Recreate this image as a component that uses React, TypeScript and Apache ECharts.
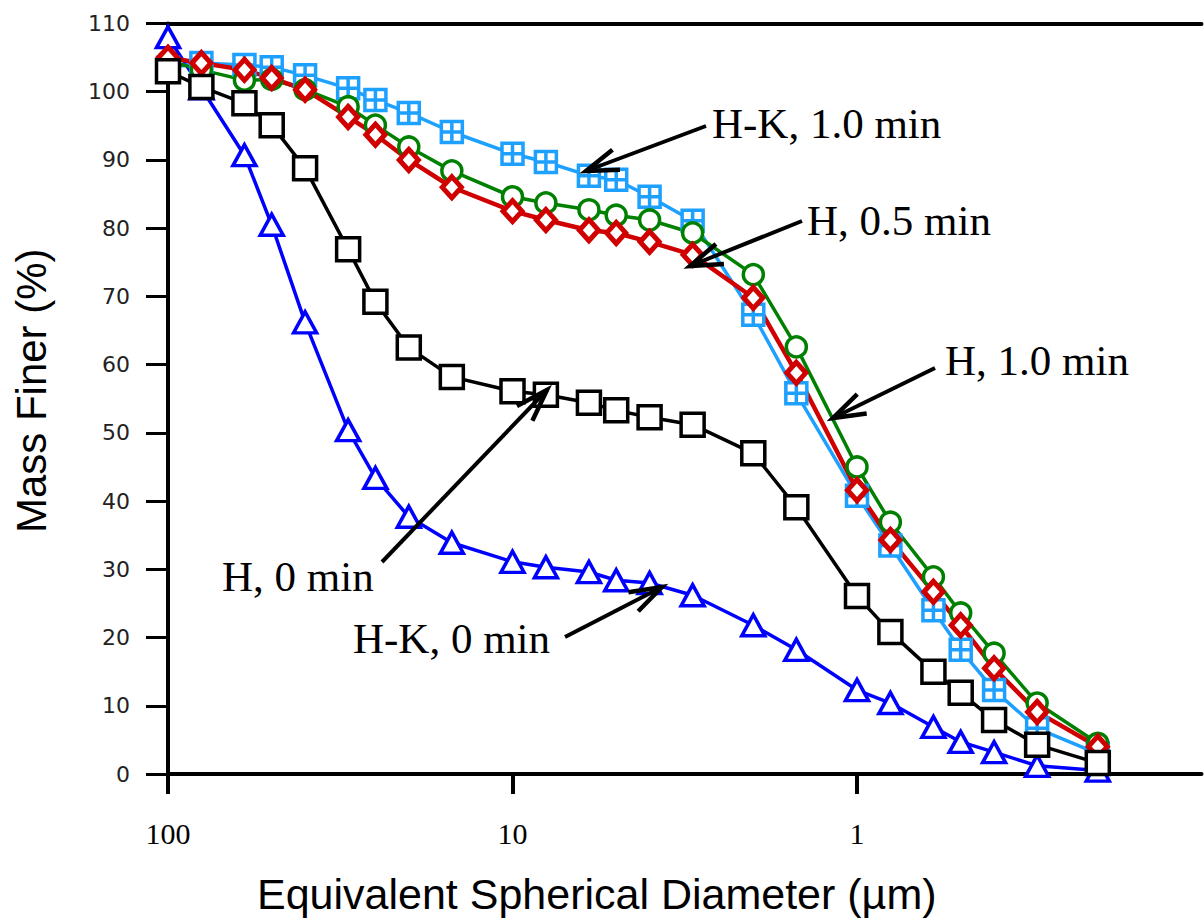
import React, { useEffect, useRef } from "react";
import * as echarts from "echarts";

// Equivalent spherical diameter (µm)
const diameters = [100, 80, 60, 50, 40, 30, 25, 20, 15, 10, 8, 6, 5, 4, 3, 2, 1.5, 1, 0.8, 0.6, 0.5, 0.4, 0.3, 0.2];

// Mass finer (%)
const hk0 = [108, 100.5, 90.7, 80.5, 66.2, 50.4, 43.4, 37.7, 33.9, 31.1, 30.3, 29.6, 28.4, 28.0, 26.2, 21.8, 18.2, 12.3, 10.4, 6.9, 4.7, 3.2, 1.2, 0.5];
const h0 = [103, 100.7, 98.3, 95.1, 88.8, 76.9, 69.2, 62.5, 58.2, 56.1, 55.6, 54.4, 53.3, 52.3, 51.2, 47.0, 39.1, 26.1, 20.8, 15.0, 11.9, 7.9, 4.3, 1.6];
const hk10 = [103.5, 104.2, 103.9, 103.6, 102.4, 100.5, 98.8, 96.9, 94.1, 90.9, 89.7, 87.7, 87.1, 84.6, 81.1, 67.3, 55.8, 40.8, 33.5, 24.0, 18.2, 12.3, 6.7, 3.0];
const h05 = [105, 104.2, 103.2, 102.0, 100.3, 96.3, 93.7, 90.0, 86.0, 82.5, 81.2, 79.7, 79.3, 78.0, 76.1, 69.8, 58.8, 41.6, 34.3, 26.7, 21.8, 15.5, 9.1, 4.0];
const h10 = [104.5, 103.2, 101.7, 101.8, 100.3, 97.8, 95.1, 91.9, 88.4, 84.6, 83.7, 82.7, 81.9, 81.2, 79.3, 73.2, 62.6, 45.0, 36.9, 28.9, 23.6, 17.7, 10.4, 4.5];

const xTickValues = [100, 10, 1];
const yMin = 0;
const yMax = 110;
const yStep = 10;

const annotations = [
  { text: "H-K, 1.0 min", tx: 712, ty: 123, tail: [706, 126], tip: [586, 171] },
  { text: "H, 0.5 min", tx: 807, ty: 220, tail: [802, 221], tip: [690, 266] },
  { text: "H, 1.0 min", tx: 945, ty: 360, tail: [935, 368], tip: [833, 418] },
  { text: "H, 0 min", tx: 222, ty: 576, tail: [382, 562], tip: [547, 390] },
  { text: "H-K, 0 min", tx: 353, ty: 638, tail: [565, 637], tip: [662, 587] },
];

const crossSquare = "path://M0,0H20V20H0Z M10,0V20 M0,10H20";

function pairs(ys: number[]) {
  return diameters.map((d, i) => [d, ys[i]]);
}

function arrowGraphics() {
  const els: any[] = [];
  annotations.forEach((a) => {
    const [x1, y1] = a.tail;
    const [x2, y2] = a.tip;
    const ang = Math.atan2(y1 - y2, x1 - x2);
    const len = 34;
    const spread = 0.32;
    const b1 = [x2 + len * Math.cos(ang + spread), y2 + len * Math.sin(ang + spread)];
    const b2 = [x2 + len * Math.cos(ang - spread), y2 + len * Math.sin(ang - spread)];
    els.push({
      type: "line",
      shape: { x1, y1, x2, y2 },
      style: { stroke: "#000", lineWidth: 4 },
      z: 100,
    });
    els.push({
      type: "polyline",
      shape: { points: [b1, [x2, y2], b2] },
      style: { stroke: "#000", lineWidth: 4.5, fill: null, lineJoin: "miter" },
      z: 100,
    });
    els.push({
      type: "text",
      x: a.tx,
      y: a.ty,
      style: {
        text: a.text,
        fontFamily: "'Liberation Serif', serif",
        fontSize: 43,
        fill: "#000",
        textAlign: "left",
        textVerticalAlign: "middle",
        align: "left",
        verticalAlign: "middle",
      },
      z: 100,
    });
  });
  return els;
}

function lineSeries(name: string, ys: number[], color: string, symbol: string, size: any, border: number, lw: number) {
  return {
    name,
    type: "line",
    xAxisIndex: 0,
    yAxisIndex: 0,
    data: pairs(ys),
    symbol,
    symbolSize: size,
    showAllSymbol: true,
    lineStyle: { color, width: lw },
    itemStyle: { color: "#fff", borderColor: color, borderWidth: border },
    emphasis: { disabled: true },
  };
}

export default function App() {
  const ref = useRef<HTMLDivElement>(null);
  useEffect(() => {
    document.body.style.margin = "0";
    if (!ref.current) return;
    const chart = echarts.init(ref.current, undefined, { renderer: "svg" });
    chart.setOption({
      animation: false,
      backgroundColor: "#fff",
      grid: { left: 168, right: 2.5, top: 23.5, bottom: 146, containLabel: false },
      xAxis: [
        {
          type: "log",
          logBase: 10,
          min: 0.1,
          max: 100,
          inverse: true,
          position: "bottom",
          name: "Equivalent Spherical Diameter (\u00b5m)",
          nameLocation: "middle",
          nameGap: 98,
          nameTextStyle: {
            fontFamily: "'Liberation Sans', Arial, sans-serif",
            fontSize: 43,
            color: "#000",
            padding: [0, 176, 0, 0],
          },
          axisLine: { show: true, lineStyle: { color: "#000", width: 4 } },
          axisTick: { show: true, inside: false, length: 20, customValues: xTickValues, lineStyle: { color: "#000", width: 4 } },
          axisLabel: {
            customValues: xTickValues,
            margin: 44,
            fontFamily: "'Liberation Serif', 'Times New Roman', serif",
            fontSize: 30,
            color: "#000",
            formatter: (v: number) => String(v),
          },
          splitLine: { show: false },
          minorTick: { show: false },
        },
        {
          type: "log",
          logBase: 10,
          min: 0.1,
          max: 100,
          inverse: true,
          position: "top",
          axisLine: { show: true, lineStyle: { color: "#000", width: 4 } },
          axisTick: { show: false },
          axisLabel: { show: false },
          splitLine: { show: false },
        },
      ],
      yAxis: {
        type: "value",
        min: yMin,
        max: yMax,
        interval: yStep,
        name: "Mass Finer (%)",
        nameLocation: "middle",
        nameGap: 116,
        nameRotate: 90,
        nameTextStyle: { fontFamily: "'Liberation Sans', Arial, sans-serif", fontSize: 42, color: "#000", padding: [0, 0, 0, 16] },
        axisLine: { show: true, lineStyle: { color: "#000", width: 4 } },
        axisTick: { show: true, inside: false, length: 22, lineStyle: { color: "#000", width: 3 } },
        axisLabel: { margin: 38, fontFamily: "'DejaVu Sans', sans-serif", fontSize: 22, color: "#222" },
        splitLine: { show: false },
      },
      series: [
        lineSeries("H-K, 0 min", hk0, "#0000ff", "triangle", [23, 21], 3.5, 3.5),
        lineSeries("H-K, 1.0 min", hk10, "#1ea0ff", crossSquare, 21, 3.5, 3.5),
        lineSeries("H, 1.0 min", h10, "#008000", "circle", 20, 3.5, 3.5),
        lineSeries("H, 0.5 min", h05, "#d00000", "diamond", [19, 21], 5, 4.5),
        lineSeries("H, 0 min", h0, "#000000", "rect", 23, 3.5, 3.5),
      ],
      graphic: arrowGraphics(),
    });
    return () => chart.dispose();
  }, []);
  return <div ref={ref} style={{ width: 1204, height: 920 }} />;
}
